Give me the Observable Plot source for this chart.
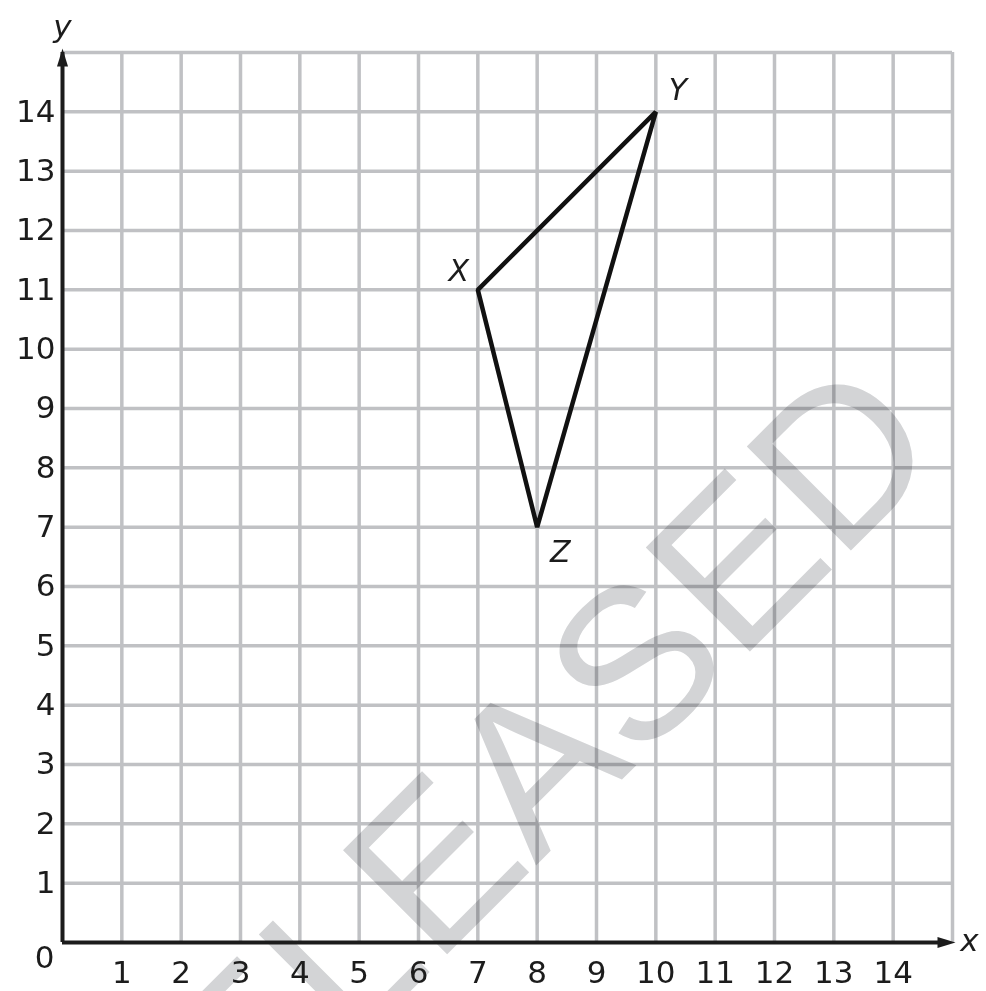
<!DOCTYPE html>
<html>
<head>
<meta charset="utf-8">
<script src="https://cdn.jsdelivr.net/npm/d3@7"></script>
<script src="https://cdn.jsdelivr.net/npm/@observablehq/plot@0.6"></script>
<style>
  html, body { margin: 0; padding: 0; background: #fff; }
  #chart svg { display: block; }
</style>
</head>
<body>
<div id="chart"></div>
<script>
// ---- data ----
const xTickLabels = [1, 2, 3, 4, 5, 6, 7, 8, 9, 10, 11, 12, 13, 14];
const yTickLabels = [1, 2, 3, 4, 5, 6, 7, 8, 9, 10, 11, 12, 13, 14];
const gridX = [1, 2, 3, 4, 5, 6, 7, 8, 9, 10, 11, 12, 13, 14, 15];
const gridY = [1, 2, 3, 4, 5, 6, 7, 8, 9, 10, 11, 12, 13, 14, 15];
const vertexNames = ["X", "Y", "Z"];
const vertexX = [7, 10, 8];
const vertexY = [11, 14, 7];
const watermarkText = ["RELEASED"];
const watermarkX = [7.3];
const watermarkY = [2.25];

const vertices = vertexNames.map((n, i) => ({name: n, x: vertexX[i], y: vertexY[i]}));
const watermark = watermarkText.map((t, i) => ({text: t, x: watermarkX[i], y: watermarkY[i]}));

const arrowUp = {draw(ctx) { ctx.moveTo(0, -4); ctx.lineTo(5.5, 14); ctx.lineTo(-5.5, 14); ctx.closePath(); }};
const arrowRight = {draw(ctx) { ctx.moveTo(3, 0); ctx.lineTo(-15, -5.5); ctx.lineTo(-15, 5.5); ctx.closePath(); }};

const font = "DejaVu Sans, Verdana, sans-serif";
const grid = "#c0c1c4";
const ink = "#1c1c1c";
const labelStyle = {x: "x", y: "y", text: "name", fontSize: 30, fontStyle: "italic", fill: ink};

const chart = Plot.plot({
  width: 986,
  height: 991,
  marginLeft: 62,
  marginRight: 34,
  marginTop: 52,
  marginBottom: 49,
  x: {domain: [0, 15], axis: null},
  y: {domain: [0, 15], axis: null},
  style: {background: "#fff", fontFamily: font},
  marks: [
    Plot.ruleX(gridX, {x: d => d, y1: 0, y2: 15, stroke: grid, strokeWidth: 3.5}),
    Plot.ruleY(gridY, {y: d => d, x1: 0, x2: 15, stroke: grid, strokeWidth: 3.5}),
    Plot.text(watermark, {x: "x", y: "y", text: "text", rotate: -45, fontSize: 214,
      fill: "#d3d4d6", fontFamily: "Liberation Sans, Arial, sans-serif", mixBlendMode: "multiply"}),
    Plot.ruleX([0], {x: d => d, y1: 0, y2: 15, stroke: ink, strokeWidth: 4}),
    Plot.ruleY([0], {y: d => d, x1: 0, x2: 14.85, stroke: ink, strokeWidth: 4}),
    Plot.dot([0], {x: 0, y: 15, symbol: arrowUp, fill: ink, stroke: "none"}),
    Plot.dot([0], {x: 15, y: 0, symbol: arrowRight, fill: ink, stroke: "none"}),
    Plot.line(vertices, {x: "x", y: "y", curve: "linear-closed", stroke: "#111",
      strokeWidth: 4.5, strokeLinejoin: "miter"}),
    Plot.text(xTickLabels, {x: d => d, y: 0, dy: 31, text: d => String(d), fontSize: 31, fill: ink}),
    Plot.text(yTickLabels, {x: 0, y: d => d, dx: -7, textAnchor: "end", text: d => String(d), fontSize: 31, fill: ink}),
    Plot.text([0], {x: 0, y: 0, dx: -18, dy: 16, text: d => String(d), fontSize: 31, fill: ink}),
    Plot.text(["x"], {x: 15, y: 0, dx: 17, dy: -1, text: d => d, fontSize: 31, fontStyle: "italic", fill: ink}),
    Plot.text(["y"], {x: 0, y: 15, dy: -25, text: d => d, fontSize: 31, fontStyle: "italic", fill: ink}),
    Plot.text(vertices.filter(d => d.name === "X"), {...labelStyle, dx: -19, dy: -18}),
    Plot.text(vertices.filter(d => d.name === "Y"), {...labelStyle, dx: 22, dy: -21}),
    Plot.text(vertices.filter(d => d.name === "Z"), {...labelStyle, dx: 23, dy: 25})
  ]
});
document.getElementById("chart").appendChild(chart);
</script>
</body>
</html>
